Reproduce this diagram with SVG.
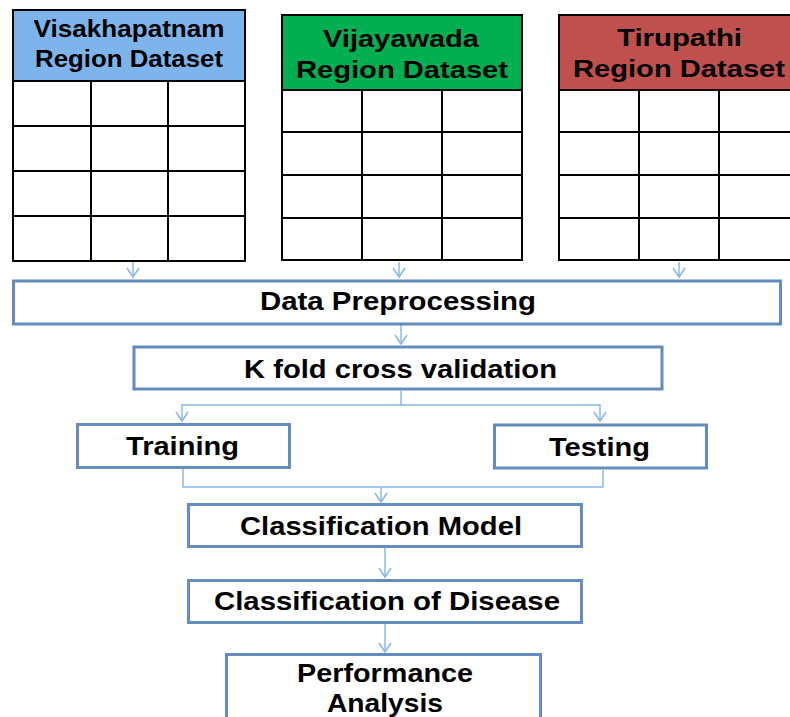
<svg xmlns="http://www.w3.org/2000/svg" width="790" height="717" viewBox="0 0 790 717">
<defs>
<style>
.bg{fill:#ffffff}
.grid{fill:none;stroke:#000;stroke-width:2}
.hdr{stroke:#000;stroke-width:2}
.box{fill:#fff;stroke:#648cbf;stroke-width:3}
.t{font-family:"Liberation Sans",Arial,sans-serif;font-weight:bold;fill:#000;text-anchor:middle}
.ht{font-size:23px}
.mt{font-size:26px}
.con{fill:none;stroke:#8ab8ea;stroke-width:1.5}
</style>
<marker id="arr" viewBox="0 0 14 14" refX="12" refY="7" markerWidth="14" markerHeight="14" markerUnits="userSpaceOnUse" orient="auto">
<polyline points="3,1 12,7 3,13" fill="none" stroke="#8ab8ea" stroke-width="1.6"/>
</marker>
</defs>
<rect class="bg" x="0" y="0" width="790" height="717"/>

<g id="visakhapatnam">
<rect x="13" y="10" width="232" height="71" fill="#7db4ec" class="hdr"/>
<text class="t ht" x="129" y="37" textLength="191" lengthAdjust="spacingAndGlyphs">Visakhapatnam</text>
<text class="t ht" x="129" y="67" textLength="188" lengthAdjust="spacingAndGlyphs">Region Dataset</text>
<rect class="grid" x="13" y="81" width="232" height="180"/>
<path class="grid" d="M13 126H245M13 171H245M13 216H245M91 81V261M168 81V261"/>
</g>

<g id="vijayawada">
<rect x="282" y="15" width="240" height="75" fill="#00b050" class="hdr"/>
<text class="t ht" x="401" y="47" textLength="156" lengthAdjust="spacingAndGlyphs">Vijayawada</text>
<text class="t ht" x="402" y="78" textLength="212" lengthAdjust="spacingAndGlyphs">Region Dataset</text>
<rect class="grid" x="282" y="90" width="240" height="170"/>
<path class="grid" d="M282 132H522M282 175H522M282 218H522M362 90V260M442 90V260"/>
</g>

<g id="tirupathi">
<rect x="559" y="15" width="240" height="75" fill="#c0504d" class="hdr"/>
<text class="t ht" x="679.5" y="46" textLength="125" lengthAdjust="spacingAndGlyphs">Tirupathi</text>
<text class="t ht" x="679" y="77" textLength="212" lengthAdjust="spacingAndGlyphs">Region Dataset</text>
<rect class="grid" x="559" y="90" width="240" height="170"/>
<path class="grid" d="M559 132H799M559 175H799M559 218H799M639 90V260M719 90V260"/>
</g>

<g id="connectors">
<path class="con" d="M133 262V277" marker-end="url(#arr)"/>
<path class="con" d="M399 262V277" marker-end="url(#arr)"/>
<path class="con" d="M679 262V277" marker-end="url(#arr)"/>
<path class="con" d="M401 325V344" marker-end="url(#arr)"/>
<path class="con" d="M401 391V405H182V421" marker-end="url(#arr)"/>
<path class="con" d="M401 405H600V421" marker-end="url(#arr)"/>
<path class="con" d="M183 469V487H603V470"/>
<path class="con" d="M381 487V502" marker-end="url(#arr)"/>
<path class="con" d="M385 548V577" marker-end="url(#arr)"/>
<path class="con" d="M385 624V652" marker-end="url(#arr)"/>
</g>

<g id="data-preprocessing">
<rect class="box" x="13.5" y="281" width="767" height="43"/>
<text class="t mt" x="398" y="310" textLength="276" lengthAdjust="spacingAndGlyphs">Data Preprocessing</text>
</g>

<g id="k-fold">
<rect class="box" x="134" y="347" width="528" height="42"/>
<text class="t mt" x="400.5" y="378" textLength="313" lengthAdjust="spacingAndGlyphs">K fold cross validation</text>
</g>

<g id="training">
<rect class="box" x="77.5" y="424.5" width="212" height="43"/>
<text class="t mt" x="182.5" y="455" textLength="113" lengthAdjust="spacingAndGlyphs">Training</text>
</g>

<g id="testing">
<rect class="box" x="494.5" y="425" width="212" height="43"/>
<text class="t mt" x="599.5" y="456" textLength="101" lengthAdjust="spacingAndGlyphs">Testing</text>
</g>

<g id="classification-model">
<rect class="box" x="188.5" y="504.5" width="393" height="42"/>
<text class="t mt" x="381" y="535" textLength="282" lengthAdjust="spacingAndGlyphs">Classification Model</text>
</g>

<g id="classification-disease">
<rect class="box" x="188.5" y="580.5" width="393" height="42"/>
<text class="t mt" x="387" y="610" textLength="346" lengthAdjust="spacingAndGlyphs">Classification of Disease</text>
</g>

<g id="performance">
<rect class="box" x="226.5" y="654.5" width="314" height="80"/>
<text class="t mt" x="385" y="682" textLength="176" lengthAdjust="spacingAndGlyphs">Performance</text>
<text class="t mt" x="385" y="712" textLength="116" lengthAdjust="spacingAndGlyphs">Analysis</text>
</g>
</svg>
